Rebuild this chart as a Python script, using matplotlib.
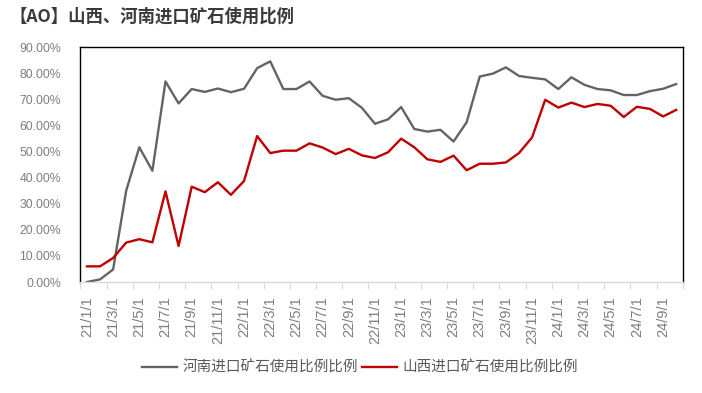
import matplotlib

matplotlib.use("Agg")
import matplotlib.pyplot as plt

# monthly categories 21/1/1 .. 24/10/1
months = [f"{y}/{m}/1" for y in (21, 22, 23, 24) for m in range(1, 13)][:46]

henan = [
    0.0, 1.0, 4.8, 35.0, 51.6, 42.6, 76.8, 68.4, 73.9, 72.8,
    74.1, 72.7, 74.0, 81.9, 84.5, 73.9, 73.9, 76.8, 71.3, 69.8,
    70.4, 66.7, 60.6, 62.3, 67.0, 58.6, 57.6, 58.3, 53.8, 61.2,
    78.7, 79.8, 82.2, 78.9, 78.2, 77.6, 73.9, 78.4, 75.5, 73.9,
    73.4, 71.6, 71.6, 73.1, 74.0, 75.8,
]
shanxi = [
    6.0, 6.0, 9.2, 15.1, 16.4, 15.2, 34.7, 13.8, 36.5, 34.4,
    38.2, 33.4, 38.7, 55.9, 49.4, 50.3, 50.3, 53.1, 51.5, 49.0,
    51.0, 48.5, 47.5, 49.7, 54.9, 51.6, 47.0, 46.0, 48.4, 42.8,
    45.3, 45.3, 45.8, 49.4, 55.4, 69.8, 66.8, 68.7, 67.0, 68.2,
    67.5, 63.2, 67.1, 66.3, 63.4, 65.9,
]
series_names = ["河南进口矿石使用比例比例", "山西进口矿石使用比例比例"]
title = "【AO】山西、河南进口矿石使用比例"
yticks = [0, 10, 20, 30, 40, 50, 60, 70, 80, 90]

plt.rcParams["font.family"] = ["Liberation Sans", "Noto Sans CJK SC", "DejaVu Sans"]

fig = plt.figure(figsize=(7.02, 3.93), dpi=100)
ax = fig.add_axes([0.1145, 0.2824, 0.858, 0.598])

x = list(range(len(months)))
ax.plot(x, henan, color="#646464", linewidth=1.7, label=series_names[0])
ax.plot(x, shanxi, color="#c00000", linewidth=1.7, label=series_names[1])

ax.set_xlim(-0.5, len(months) - 0.5)
ax.set_ylim(0, 90)

# labels every 2 months, tick marks between categories
ax.set_xticks(x[::2])
ax.set_xticklabels(months[::2], rotation=90, fontsize=10.5, color="#7f7f7f")
ax.set_xticks([i - 0.5 for i in range(0, len(months) + 1, 2)], minor=True)
ax.tick_params(axis="x", which="major", length=0, pad=10)
ax.tick_params(axis="x", which="minor", length=5, color="#d9d9d9", width=0.8)

ax.set_yticks(yticks)
ax.set_yticklabels([f"{v:.2f}%" for v in yticks], fontsize=8.8, color="#7f7f7f")
ax.tick_params(axis="y", length=0, pad=14)

for side in ("left", "top", "right"):
    ax.spines[side].set_color("black")
    ax.spines[side].set_linewidth(1.0)
ax.spines["bottom"].set_color("#d9d9d9")
ax.spines["bottom"].set_linewidth(1.0)

fig.text(0.014, 0.958, title, fontsize=12.5, fontweight="bold",
         color="#3a3a3a", family=["Noto Sans CJK SC"], va="center")

leg = fig.legend(loc="center", bbox_to_anchor=(0.513, 0.064), ncol=2,
                 frameon=False, handlelength=2.4, handletextpad=0.4,
                 columnspacing=0.25,
                 prop={"family": ["Noto Sans CJK SC"], "size": 10.5})
for t in leg.get_texts():
    t.set_color("#595959")

fig.savefig("out.png", dpi=100)
